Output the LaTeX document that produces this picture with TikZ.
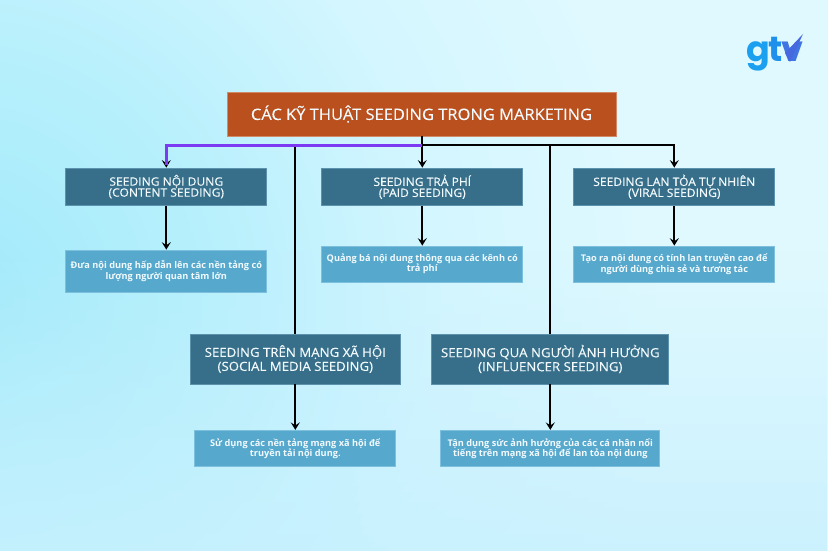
\documentclass[tikz,border=0pt]{standalone}
\usepackage{fontspec}
\setmainfont{Open Sans}
\newfontfamily\headfont[FakeBold=0.25,FakeStretch=1.05]{Open Sans}
\newfontfamily\logofont{Poppins}
\usetikzlibrary{arrows.meta,fadings}
\definecolor{boxdark}{HTML}{376F8A}
\definecolor{boxdarkedge}{HTML}{5C92AB}
\definecolor{boxlight}{HTML}{56A8CD}
\definecolor{boxlightedge}{HTML}{7CC0DE}
\definecolor{titlefill}{HTML}{B9501E}
\definecolor{titleedge}{HTML}{D08A68}
\definecolor{busviolet}{HTML}{7C3AF2}
\definecolor{textwhite}{HTML}{F2FAFD}
\definecolor{glowa}{HTML}{A2EAFA}
\definecolor{glowb}{HTML}{B8F0FC}
\definecolor{glowc}{HTML}{D4F6FF}
\definecolor{glowd}{HTML}{E0F9FF}
\definecolor{floorblue}{HTML}{C6F0FE}
\pgfdeclareradialshading{bgglow}{\pgfpointorigin}{%
 color(0bp)=(glowa);
 color(6bp)=(glowb);
 color(11bp)=(glowc);
 color(16bp)=(glowd);
 color(25bp)=(glowd);
 color(50bp)=(glowd)}
\tikzfading[name=risefade,top color=transparent!100,bottom color=transparent!20]
\tikzset{
 x=1pt,y=-1pt,
 mainbox/.style={draw=titleedge,line width=.8pt,fill=titlefill,text=textwhite,inner sep=0pt,align=center,
   font=\headfont\fontsize{15.7}{20}\selectfont},
 headbox/.style={draw=boxdarkedge,line width=.7pt,fill=boxdark,text=textwhite,inner sep=0pt,align=center,
   font=\headfont\fontsize{11.5}{11}\selectfont},
 bighead/.style={headbox,font=\headfont\fontsize{12.6}{14}\selectfont},
 descbox/.style={draw=boxlightedge,line width=.7pt,fill=boxlight,text=textwhite,inner sep=0pt,align=center,
   font=\bfseries\fontsize{9.2}{10.4}\selectfont},
 link/.style={draw=black,line width=1.8pt},
 linkarrow/.style={link,-{Stealth[length=7.5pt,width=9pt,inset=3pt]}},
 violetlink/.style={draw=busviolet,line width=3pt,line cap=butt},
}
\begin{document}
\begin{tikzpicture}
\useasboundingbox (0,0) rectangle (828,551);
\begin{scope}
 \clip (0,0) rectangle (828,551);
 \shade[shading=bgglow] (-40,300) circle[radius=1100];
 \fill[floorblue,path fading=risefade] (0,250) rectangle (828,551);
\end{scope}

\node[mainbox,minimum width=389pt,minimum height=44pt] (title) at (421.5,114) {CÁC KỸ THUẬT SEEDING TRONG MARKETING};

\node[headbox,minimum width=201pt,minimum height=37.5pt] (content) at (166.3,186.7) {SEEDING NỘI DUNG\\(CONTENT SEEDING)};
\node[headbox,minimum width=201pt,minimum height=37.5pt] (paid) at (422.3,186.7) {SEEDING TRẢ PHÍ\\(PAID SEEDING)};
\node[headbox,minimum width=201pt,minimum height=37.5pt] (viral) at (674.3,186.7) {SEEDING LAN TỎA TỰ NHIÊN\\(VIRAL SEEDING)};

\node[descbox,minimum width=201pt,minimum height=42pt] (contentd) at (166.3,271) {Đưa nội dung hấp dẫn lên các nền tảng có\\lượng người quan tâm lớn};
\node[descbox,minimum width=201pt,minimum height=36pt] (paidd) at (422.3,264) {Quảng bá nội dung thông qua các kênh có\\trả phí};
\node[descbox,minimum width=201pt,minimum height=36pt] (virald) at (674.3,264) {Tạo ra nội dung có tính lan truyền cao để\\người dùng chia sẻ và tương tác};

\node[bighead,minimum width=210pt,minimum height=50pt] (social) at (295.3,359) {SEEDING TRÊN MẠNG XÃ HỘI\\(SOCIAL MEDIA SEEDING)};
\node[bighead,minimum width=237pt,minimum height=50pt] (infl) at (550.3,359) {SEEDING QUA NGƯỜI ẢNH HƯỞNG\\(INFLUENCER SEEDING)};

\node[descbox,minimum width=201pt,minimum height=36.5pt] (sociald) at (295.3,448.5) {Sử dụng các nền tảng mạng xã hội để\\truyền tải nội dung.};
\node[descbox,minimum width=219pt,minimum height=36.5pt] (infld) at (550.3,448.5) {Tận dụng sức ảnh hưởng của các cá nhân nổi\\tiếng trên mạng xã hội để lan tỏa nội dung};

\coordinate (bus) at (422.3,145.3);
\draw[link] (title.south -| bus) -- (bus);
\draw[linkarrow] (bus) -- (paid.north);
\draw[linkarrow] (bus) -| (content.north);
\draw[linkarrow] (bus) -| (viral.north);
\draw[link] (social.north |- bus) -- (social.north);
\draw[link] (infl.north |- bus) -- (infl.north);
\coordinate (violetend) at (166.3,165);
\draw[violetlink] (bus) -| (violetend);

\draw[linkarrow] (content) -- (contentd);
\draw[linkarrow] (paid) -- (paidd);
\draw[linkarrow] (viral) -- (virald);
\draw[linkarrow] (social) -- (sociald);
\draw[linkarrow] (infl) -- (infld);

\node[inner sep=0pt,anchor=base west,font=\logofont\bfseries\fontsize{35}{35}\selectfont] (logo) at (746,62)
 {\textcolor[HTML]{1BA0F0}{g}\hspace{-1pt}\textcolor[HTML]{1E90EC}{t}\hspace{-2pt}\textcolor[HTML]{3F74E2}{v}};
\fill[color={rgb,255:red,70;green,105;blue,224}] (803,34) -- (790,62) -- (785,53) -- cycle;
\end{tikzpicture}
\end{document}
